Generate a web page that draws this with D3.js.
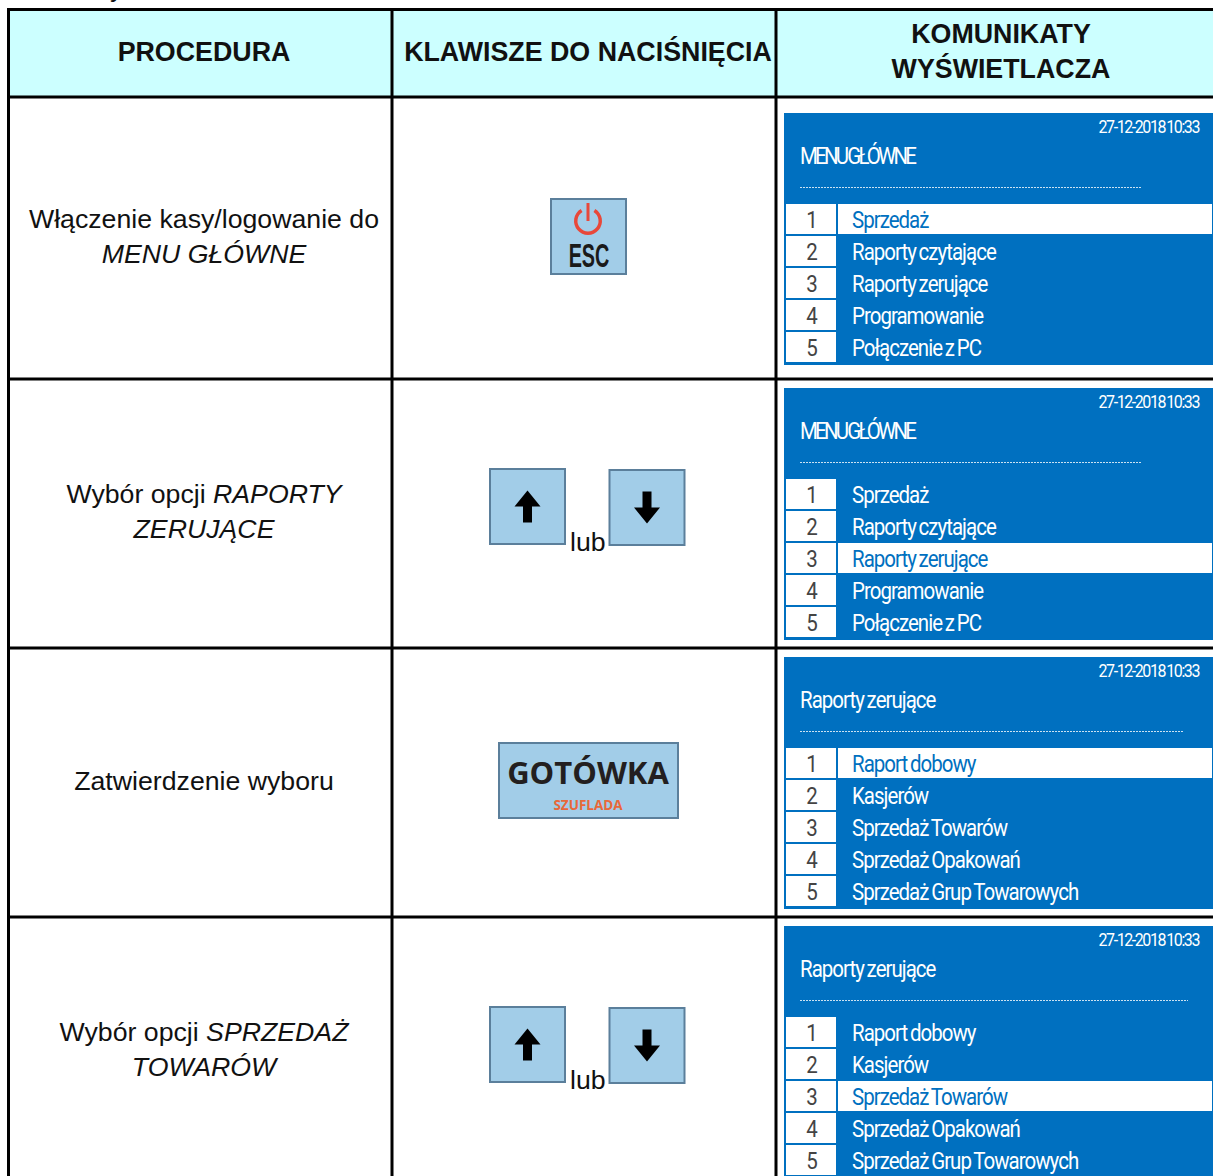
<!DOCTYPE html>
<html>
<head>
<meta charset="utf-8">
<script src="https://cdn.jsdelivr.net/npm/d3@7"></script>
<style>
    html, body { margin: 0; padding: 0; background: #fff; }
    svg { display: block; }
    text { font-family: "Liberation Sans", Arial, sans-serif; fill: #111; }
    .screen text { font-family: Roboto, sans-serif; fill: #fff; }
</style>
</head>
<body>
<div id="chart"></div>
<script>
const headers = [["PROCEDURA"], ["KLAWISZE DO NACIŚNIĘCIA"], ["KOMUNIKATY", "WYŚWIETLACZA"]];

const procedures = [
    [["Włączenie kasy/logowanie do"], ["MENU GŁÓWNE"]],
    [["Wybór opcji ", "RAPORTY"], ["ZERUJĄCE"]],
    [["Zatwierdzenie wyboru"]],
    [["Wybór opcji ", "SPRZEDAŻ"], ["TOWARÓW"]]
];

const keys = ["esc", "arrows", "cash", "arrows"];
const dateLabel = "27-12-2018 10:33";
const screenTitles = ["MENU GŁÓWNE", "MENU GŁÓWNE", "Raporty zerujące", "Raporty zerujące"];
const mainMenu = ["Sprzedaż", "Raporty czytające", "Raporty zerujące", "Programowanie", "Połączenie z PC"];
const reportMenu = ["Raport dobowy", "Kasjerów", "Sprzedaż Towarów", "Sprzedaż Opakowań", "Sprzedaż Grup Towarowych"];
const screenMenus = [mainMenu, mainMenu, reportMenu, reportMenu];
const selectedItem = [0, 2, 0, 2];
const dotsEnd = [1142, 1142, 1183, 1188];

const width = 1213;
const height = 1176;
const blue = "#0070c0";
const keyFill = "#a2cde8";
const keyStroke = "#5b7f9b";

const svg = d3.select("#chart")
    .append("svg")
    .attr("width", width)
    .attr("height", height);

// row tops, last one runs off the page
const rowTop = [97, 379, 648, 917];
const rowBottom = [379, 648, 917, 1186];
const colX = [8.5, 392, 776, 1240];
const colMid = [204, 588, 1001];

// header band
svg.append("rect")
    .attr("x", colX[0]).attr("y", 9.5)
    .attr("width", width - colX[0]).attr("height", rowTop[0] - 9.5)
    .attr("fill", "#ccffff");

// bit of the text above the table, cut by the page edge
svg.append("text")
    .attr("x", 110).attr("y", -3)
    .attr("font-size", 26.7)
    .text("y");

headers.forEach(function(lines, i) {
    const firstY = lines.length === 1 ? 61 : 43;
    lines.forEach(function(line, j) {
        svg.append("text")
            .attr("x", colMid[i])
            .attr("y", firstY + j * 35)
            .attr("text-anchor", "middle")
            .attr("font-size", 26.8)
            .attr("font-weight", "bold")
            .text(line);
    });
});

// procedure column
procedures.forEach(function(lines, i) {
    const mid = (rowTop[i] + rowBottom[i]) / 2;
    const firstY = lines.length === 1 ? mid + 7.5 : mid - 10.5;
    lines.forEach(function(parts, j) {
        const t = svg.append("text")
            .attr("x", colMid[0])
            .attr("y", firstY + j * 35)
            .attr("text-anchor", "middle")
            .attr("font-size", 26.7);
        parts.forEach(function(part, k) {
            const italic = (i === 0 && j === 1) || (i !== 0 && (j === 1 || k === 1));
            t.append("tspan")
                .attr("font-style", italic ? "italic" : "normal")
                .attr("xml:space", "preserve")
                .text(part);
        });
    });
});

// keys
function keyBox(x, y, w, h) {
    return svg.append("rect")
        .attr("x", x + 1).attr("y", y + 1)
        .attr("width", w - 2).attr("height", h - 2)
        .attr("fill", keyFill)
        .attr("stroke", keyStroke)
        .attr("stroke-width", 2);
}

function arrowKey(x, y, dir) {
    keyBox(x, y, 77, 77);
    const cx = x + 38.5;
    const cy = y + 38.5;
    // dir -1 points up, 1 points down
    const p = d3.path();
    p.moveTo(cx, cy + dir * 16);
    p.lineTo(cx - 13, cy);
    p.lineTo(cx - 4.5, cy);
    p.lineTo(cx - 4.5, cy - dir * 16);
    p.lineTo(cx + 4.5, cy - dir * 16);
    p.lineTo(cx + 4.5, cy);
    p.lineTo(cx + 13, cy);
    p.closePath();
    svg.append("path").attr("d", p.toString()).attr("fill", "#000");
}

keys.forEach(function(key, i) {
    const top = rowTop[i];
    if (key === "esc") {
        keyBox(550, top + 101, 77, 77);
        const arc = d3.arc()
            .innerRadius(10.5)
            .outerRadius(14)
            .startAngle(0.55)
            .endAngle(2 * Math.PI - 0.55);
        svg.append("path")
            .attr("d", arc())
            .attr("transform", `translate(588,${top + 124})`)
            .attr("fill", "#e8483a");
        svg.append("rect")
            .attr("x", 586.5).attr("y", top + 106)
            .attr("width", 3).attr("height", 18)
            .attr("fill", "#e8483a");
        svg.append("text")
            .attr("transform", `translate(589,${top + 170}) scale(0.6,1)`)
            .attr("text-anchor", "middle")
            .attr("font-size", 33)
            .attr("font-weight", "bold")
            .style("fill", "#1a1a1a")
            .text("ESC");
    } else if (key === "arrows") {
        const keyTop = top + 89;
        arrowKey(489, keyTop, -1);
        arrowKey(608.5, keyTop + 1, 1);
        svg.append("text")
            .attr("x", 570).attr("y", keyTop + 83)
            .attr("font-size", 26.7)
            .text("lub");
    } else {
        keyBox(498, top + 94, 181, 77);
        svg.append("text")
            .attr("x", 588).attr("y", top + 136)
            .attr("text-anchor", "middle")
            .attr("font-size", 31)
            .attr("font-weight", "bold")
            .style("font-family", "'Open Sans', sans-serif")
            .style("fill", "#231f20")
            .text("GOTÓWKA");
        svg.append("text")
            .attr("x", 588).attr("y", top + 162)
            .attr("text-anchor", "middle")
            .attr("font-size", 13.5)
            .attr("font-weight", "bold")
            .style("font-family", "'Open Sans', sans-serif")
            .style("fill", "#e8683a")
            .text("SZUFLADA");
    }
});

// display screens
const rowScale = d3.scaleBand()
    .domain(d3.range(5))
    .range([91, 249])
    .paddingInner(2 / 32);

function narrowText(g, x, y, size, str, spacing, anchor) {
    return g.append("text")
        .attr("transform", `translate(${x},${y}) scale(0.89,1)`)
        .attr("font-size", size)
        .attr("letter-spacing", spacing)
        .attr("word-spacing", -1.5)
        .attr("text-anchor", anchor || "start")
        .text(str);
}

const screenTop = [113, 388, 657, 926];

screenTitles.forEach(function(title, i) {
    const g = svg.append("g")
        .attr("class", "screen")
        .attr("transform", `translate(784,${screenTop[i]})`);

    g.append("rect")
        .attr("width", width - 784)
        .attr("height", 252)
        .attr("fill", blue);

    narrowText(g, 415, 20, 18, dateLabel, -1.6, "end");
    narrowText(g, 16, 51, 23, title, title === title.toUpperCase() ? -3.1 : -1.1);

    g.append("line")
        .attr("x1", 16).attr("x2", dotsEnd[i] - 784)
        .attr("y1", 74.5).attr("y2", 74.5)
        .attr("stroke", "#fff")
        .attr("stroke-width", 1)
        .attr("stroke-dasharray", "2 1")
        .attr("opacity", 0.8);

    screenMenus[i].forEach(function(item, j) {
        const y = rowScale(j);
        const h = rowScale.bandwidth();
        const selected = j === selectedItem[i];

        g.append("rect")
            .attr("x", 2).attr("y", y)
            .attr("width", 50).attr("height", h)
            .attr("fill", "#fff");

        if (selected) {
            g.append("rect")
                .attr("x", 54).attr("y", y)
                .attr("width", 374).attr("height", h)
                .attr("fill", "#fff");
        }

        narrowText(g, 28, y + 24, 23, j + 1, 0, "middle")
            .style("fill", "#444");
        narrowText(g, 68, y + 24, 23, item, -1.1)
            .style("fill", selected ? blue : "#fff");
    });
});

// grid lines
const lineColor = "#000";
rowTop.concat([9.5]).forEach(function(y) {
    svg.append("line")
        .attr("x1", colX[0] - 1.5).attr("x2", width)
        .attr("y1", y).attr("y2", y)
        .attr("stroke", lineColor)
        .attr("stroke-width", 3);
});
colX.slice(0, 3).forEach(function(x) {
    svg.append("line")
        .attr("x1", x).attr("x2", x)
        .attr("y1", 8).attr("y2", height)
        .attr("stroke", lineColor)
        .attr("stroke-width", 3);
});
</script>
</body>
</html>
